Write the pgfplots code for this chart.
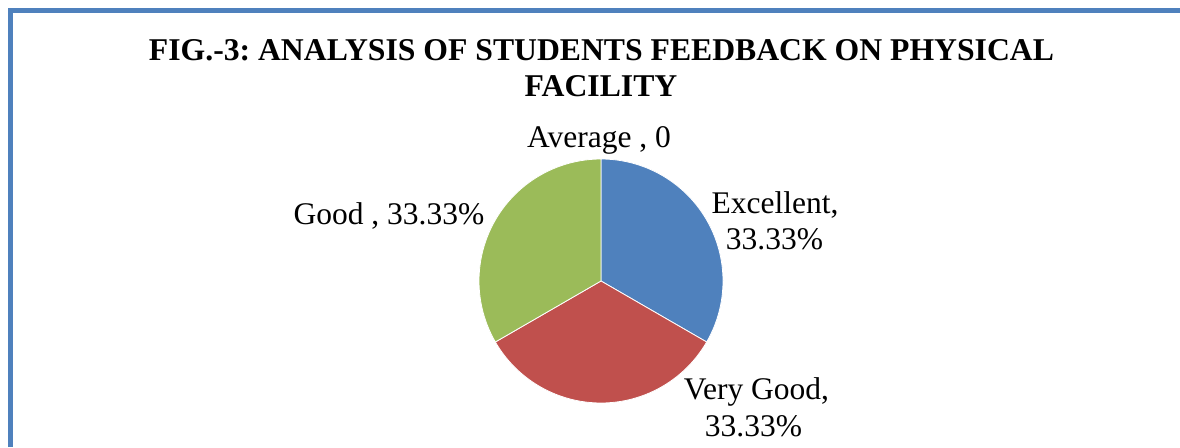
\documentclass[border=0pt]{standalone}
\usepackage{fontspec}
\setmainfont{Liberation Serif}
\usepackage{pgfplots}
\pgfplotsset{compat=1.18}
\definecolor{pieblue}{HTML}{4F81BD}
\definecolor{piered}{HTML}{C0504D}
\definecolor{piegreen}{HTML}{9BBB59}
\definecolor{frameblue}{HTML}{4F81BD}
\frenchspacing

% slice values (percent), clockwise from 12 o'clock
\def\vExc{33.33}
\def\vVG{33.33}
\def\vGood{33.33}
\def\vAvg{0}
\pgfmathsetmacro{\total}{\vExc+\vVG+\vGood+\vAvg}
\pgfmathsetmacro{\aA}{90}
\pgfmathsetmacro{\aB}{\aA-360*\vExc/\total}
\pgfmathsetmacro{\aC}{\aB-360*\vVG/\total}
\pgfmathsetmacro{\aD}{\aC-360*\vGood/\total}
\def\cx{601}
\def\cy{166}
\def\r{122}
\newcommand{\lbl}{\fontsize{31.5}{38}\selectfont}
\newcommand{\ttl}{\fontsize{31.7}{38}\selectfont\bfseries}

\begin{document}
\begin{tikzpicture}
\begin{axis}[
  width=1180pt, height=447pt, scale only axis,
  xmin=0, xmax=1180, ymin=0, ymax=447,
  hide axis,
]
\coordinate (bl) at (axis cs:0,0);
\coordinate (tr) at (axis cs:1180,447);
% frame
\addplot[draw=frameblue, line width=5pt, line join=miter] coordinates {(10.5,0) (10.5,436.5) (1180,436.5)};
% slices
\addplot[fill=pieblue, draw=white, line width=0.8pt, domain=\aA:\aB, samples=80]
  ({\cx+\r*cos(x)},{\cy+\r*sin(x)}) -- (axis cs:\cx,\cy) -- cycle;
\addplot[fill=piered, draw=white, line width=0.8pt, domain=\aB:\aC, samples=80]
  ({\cx+\r*cos(x)},{\cy+\r*sin(x)}) -- (axis cs:\cx,\cy) -- cycle;
\addplot[fill=piegreen, draw=white, line width=0.8pt, domain=\aC:\aD, samples=80]
  ({\cx+\r*cos(x)},{\cy+\r*sin(x)}) -- (axis cs:\cx,\cy) -- cycle;
% title
\node[anchor=base, font=\ttl] at (axis cs:601.5,386) {FIG.-3: ANALYSIS OF STUDENTS FEEDBACK ON PHYSICAL};
\node[anchor=base, font=\ttl] at (axis cs:601,350) {FACILITY};
% labels
\node[anchor=base, font=\lbl] at (axis cs:599,299) {Average , 0};
\node[anchor=base, font=\lbl] at (axis cs:775,233) {Excellent,};
\node[anchor=base, font=\lbl] at (axis cs:774.5,197) {33.33\%};
\node[anchor=base, font=\lbl] at (axis cs:389,222) {Good , 33.33\%};
\node[anchor=base, font=\lbl] at (axis cs:756.5,47) {Very Good,};
\node[anchor=base, font=\lbl] at (axis cs:753.5,11) {33.33\%};
\end{axis}
\pgfresetboundingbox
\useasboundingbox (bl) rectangle (tr);
\end{tikzpicture}
\end{document}
